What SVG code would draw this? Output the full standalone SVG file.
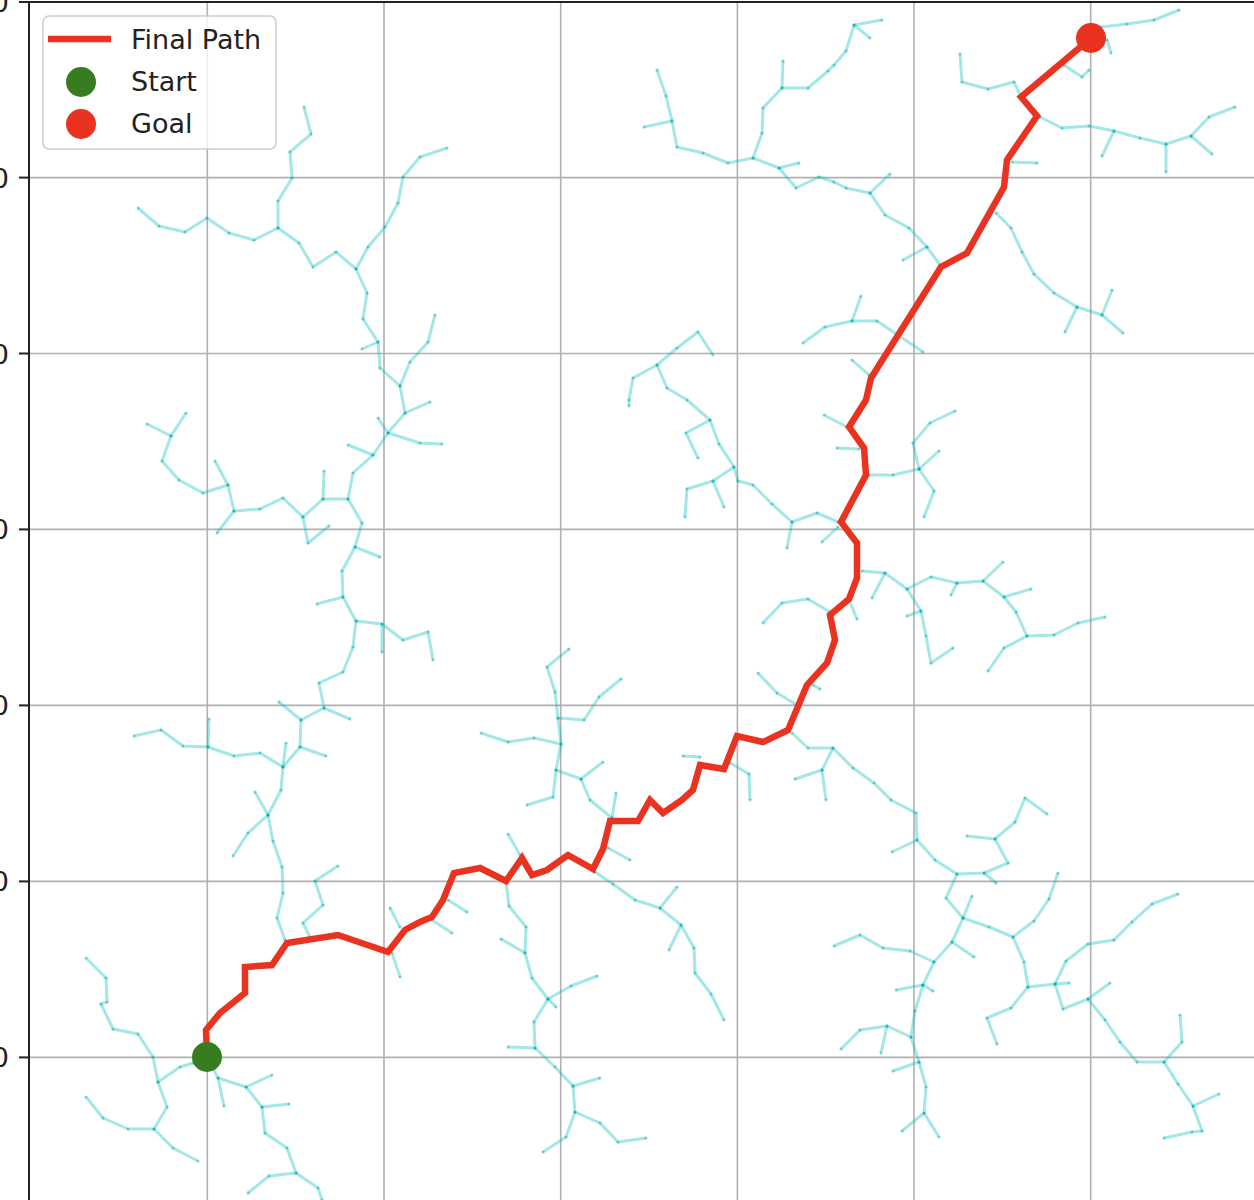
<svg xmlns="http://www.w3.org/2000/svg" width="1254" height="1200" viewBox="0 0 1254 1200">
<style>
.grid line{stroke:#b0b0b0;stroke-width:1.6}
.spine{stroke:#222;stroke-width:2;fill:none}
.tick{stroke:#222;stroke-width:2}
.lbl{font-family:"DejaVu Sans",sans-serif;font-size:27px;fill:#222}
.tree polyline{fill:none;stroke:#00bcbc;stroke-opacity:0.36;stroke-width:3;stroke-linejoin:round;stroke-linecap:butt;marker-start:url(#dot);marker-mid:url(#dot);marker-end:url(#dot)}
.path{fill:none;stroke:#e9321f;stroke-width:6.5;stroke-linejoin:miter;stroke-linecap:square}
</style>
<defs>
<marker id="dot" viewBox="0 0 4 4" refX="2" refY="2" markerWidth="4" markerHeight="4" markerUnits="userSpaceOnUse"><circle cx="2" cy="2" r="1.5" fill="#00a5a5" fill-opacity="0.45"/></marker>
</defs>
<rect width="1254" height="1200" fill="#fff"/>
<g id="grid" class="grid">
<line x1="207.3" y1="2" x2="207.3" y2="1200"/>
<line x1="384" y1="2" x2="384" y2="1200"/>
<line x1="560.7" y1="2" x2="560.7" y2="1200"/>
<line x1="737.4" y1="2" x2="737.4" y2="1200"/>
<line x1="914" y1="2" x2="914" y2="1200"/>
<line x1="1090.7" y1="2" x2="1090.7" y2="1200"/>
<line x1="29" y1="177.6" x2="1254" y2="177.6"/>
<line x1="29" y1="353.5" x2="1254" y2="353.5"/>
<line x1="29" y1="529.4" x2="1254" y2="529.4"/>
<line x1="29" y1="705.4" x2="1254" y2="705.4"/>
<line x1="29" y1="881.4" x2="1254" y2="881.4"/>
<line x1="29" y1="1057.4" x2="1254" y2="1057.4"/>
</g>
<g id="tree" class="tree">
<polyline points="304,107 311,134 290,152 292,178 278,201 278,228"/>
<polyline points="138,208 159,226 185,232 207,218 229,233 254,240 278,228 299,243 313,267 336,252 356,269 367,293 363,319 378,342 380,368 400,386 405,413 388,433 373,455 353,473 348,499 362,523 355,547 342,571 343,597 356,621 353,647 343,672 319,683 324,708 301,720 300,747 283,767 281,790 268,815 273,841 282,867 283,893 277,918 285,940"/>
<polyline points="356,269 368,247 385,227 398,203 403,177 420,157 447,148"/>
<polyline points="362,349 378,342"/>
<polyline points="400,386 410,362 428,342 435,315"/>
<polyline points="405,413 430,402"/>
<polyline points="378,418 388,433 420,443 442,444"/>
<polyline points="348,445 373,455"/>
<polyline points="348,499 323,499 324,471"/>
<polyline points="323,499 303,517 308,543 329,526"/>
<polyline points="303,517 283,498 260,509 234,511 228,485 203,493 179,480 162,461 171,436 147,424"/>
<polyline points="171,436 186,413"/>
<polyline points="228,485 215,461"/>
<polyline points="234,511 217,533"/>
<polyline points="355,547 380,557"/>
<polyline points="343,597 317,604"/>
<polyline points="356,621 382,624 382,652"/>
<polyline points="382,624 403,640 428,632 433,660"/>
<polyline points="324,708 350,719"/>
<polyline points="301,720 279,702"/>
<polyline points="300,747 326,756"/>
<polyline points="283,767 286,743"/>
<polyline points="283,767 260,753 234,756 208,747 183,746 161,730 134,736"/>
<polyline points="208,747 209,719"/>
<polyline points="255,792 268,815"/>
<polyline points="268,815 248,833 233,856"/>
<polyline points="338,866 315,881 323,905 303,923 310,937"/>
<polyline points="390,908 400,927"/>
<polyline points="392,953 400,977"/>
<polyline points="86,958 106,978 107,1002 101,1004 113,1029 138,1034 153,1057 158,1082 180,1067 193,1063 207,1057"/>
<polyline points="158,1082 167,1107 154,1129 128,1129 103,1118 86,1097"/>
<polyline points="154,1129 173,1148 198,1161"/>
<polyline points="207,1057 218,1078 224,1106"/>
<polyline points="218,1078 246,1087 272,1075"/>
<polyline points="246,1087 262,1107 289,1104"/>
<polyline points="262,1107 265,1133 287,1148 296,1173 269,1176 248,1193"/>
<polyline points="296,1173 318,1188 322,1200"/>
<polyline points="508,834 520,855"/>
<polyline points="608,848 630,860"/>
<polyline points="448,900 467,912"/>
<polyline points="432,920 452,933"/>
<polyline points="506,882 509,906 526,927 525,953 532,978 548,999 556,1007"/>
<polyline points="525,953 501,939"/>
<polyline points="548,999 571,986 597,976"/>
<polyline points="548,999 534,1022 535,1048 508,1047"/>
<polyline points="535,1048 555,1067 573,1086 600,1078"/>
<polyline points="573,1086 575,1112 600,1123 618,1142 646,1138"/>
<polyline points="575,1112 566,1137 543,1152"/>
<polyline points="595,872 613,884 635,900 660,908 677,887"/>
<polyline points="660,908 681,925 669,950"/>
<polyline points="681,925 694,948 695,973 711,994 724,1020"/>
<polyline points="713,355 698,332 677,348 657,365 633,378 629,400 629,406"/>
<polyline points="657,365 667,388 687,400 710,420 719,444 734,467 738,481 753,485 772,504 792,522 817,513 838,522"/>
<polyline points="710,420 686,433 698,458"/>
<polyline points="734,467 713,481 687,489 685,517"/>
<polyline points="713,481 724,507"/>
<polyline points="792,522 787,548"/>
<polyline points="838,527 822,542"/>
<polyline points="824,415 847,427"/>
<polyline points="837,448 859,449"/>
<polyline points="763,623 782,603 808,599 830,612"/>
<polyline points="758,673 777,693 797,705"/>
<polyline points="813,685 820,689"/>
<polyline points="792,733 808,748 833,748 853,768 874,783 891,800 916,813 917,840 935,860 957,874 984,873 1008,863 995,839 967,836"/>
<polyline points="833,748 822,770 795,779"/>
<polyline points="822,770 826,800"/>
<polyline points="683,756 700,757"/>
<polyline points="730,763 749,774 750,800"/>
<polyline points="569,649 547,667 555,692 558,718 584,720 599,697 621,679"/>
<polyline points="558,718 561,744 534,738 508,742 481,733"/>
<polyline points="561,744 556,770 553,797 527,805"/>
<polyline points="556,770 581,779 603,762"/>
<polyline points="581,779 590,800 612,818"/>
<polyline points="616,793 612,818"/>
<polyline points="869,475 893,475 919,469 913,443 930,423 955,411"/>
<polyline points="919,469 939,451"/>
<polyline points="919,469 934,491 924,517"/>
<polyline points="862,571 885,573 907,589 931,577 957,583 983,581 1003,562"/>
<polyline points="885,573 872,598"/>
<polyline points="907,589 921,611 926,636 931,663 953,648"/>
<polyline points="921,611 907,616"/>
<polyline points="957,583 951,595"/>
<polyline points="983,581 1004,597 1031,589"/>
<polyline points="1004,597 1016,612 1027,636 1054,635 1078,623 1105,617"/>
<polyline points="1027,636 1004,648 988,671"/>
<polyline points="849,600 857,619"/>
<polyline points="917,840 892,852"/>
<polyline points="995,839 1015,822 1025,798 1047,814"/>
<polyline points="984,873 996,883"/>
<polyline points="957,874 946,898 963,918 989,927 1013,937 1034,921 1049,899 1058,873"/>
<polyline points="963,918 972,896"/>
<polyline points="963,918 952,942 974,957"/>
<polyline points="952,942 934,962 923,985 933,991"/>
<polyline points="923,985 896,990"/>
<polyline points="923,985 915,1011 911,1037 887,1026 860,1030 841,1049"/>
<polyline points="887,1026 881,1053"/>
<polyline points="911,1037 919,1062 893,1071"/>
<polyline points="919,1062 926,1087 924,1113 902,1131"/>
<polyline points="924,1113 939,1137"/>
<polyline points="934,962 910,951 883,948 860,935 834,946"/>
<polyline points="1013,937 1024,962 1028,987 1055,984 1069,983"/>
<polyline points="1028,987 1011,1008 987,1018 997,1044"/>
<polyline points="1055,984 1066,961 1088,944 1114,940 1132,922 1152,904 1178,894"/>
<polyline points="1055,984 1063,1009 1088,999 1110,983"/>
<polyline points="1088,999 1105,1020 1120,1042 1137,1062 1164,1062 1182,1042 1180,1015"/>
<polyline points="1164,1062 1178,1084 1193,1106 1219,1094"/>
<polyline points="1193,1106 1202,1131 1192,1132 1164,1138"/>
<polyline points="882,20 854,25 846,51 834,65 828,71 808,88 782,88 763,108 762,133 753,158 728,163 703,153 677,147 672,121 666,96 657,70"/>
<polyline points="854,25 870,38"/>
<polyline points="672,121 644,127"/>
<polyline points="782,88 783,61"/>
<polyline points="753,158 779,168 799,163"/>
<polyline points="779,168 796,188 819,177 834,182 846,188 870,193 890,174"/>
<polyline points="870,193 885,215 909,228 927,247 940,265"/>
<polyline points="927,247 903,260"/>
<polyline points="803,343 825,327 852,321 877,321 923,352"/>
<polyline points="852,321 861,296"/>
<polyline points="852,360 869,375"/>
<polyline points="960,54 962,82 988,89 1014,82 1021,97"/>
<polyline points="1064,65 1082,77 1089,70"/>
<polyline points="1091,38 1101,27 1127,24 1154,20 1179,10"/>
<polyline points="1091,38 1107,40 1111,53"/>
<polyline points="1037,116 1040,117 1062,128 1089,126 1114,131 1140,138 1166,144 1191,136 1209,117 1235,107"/>
<polyline points="1114,131 1102,156"/>
<polyline points="1166,144 1166,172"/>
<polyline points="1191,136 1212,154"/>
<polyline points="1012,162 1037,163"/>
<polyline points="996,213 1011,228 1022,252 1034,274 1054,293 1077,307 1102,315 1123,333"/>
<polyline points="1077,307 1065,332"/>
<polyline points="1102,315 1112,290"/>
</g>
<g id="axes">
<polyline class="spine" points="29,1200 29,2 1254,2"/>
<line class="tick" x1="19" y1="2" x2="29" y2="2"/>
<line class="tick" x1="19" y1="177.6" x2="29" y2="177.6"/>
<line class="tick" x1="19" y1="353.5" x2="29" y2="353.5"/>
<line class="tick" x1="19" y1="529.4" x2="29" y2="529.4"/>
<line class="tick" x1="19" y1="705.4" x2="29" y2="705.4"/>
<line class="tick" x1="19" y1="881.4" x2="29" y2="881.4"/>
<line class="tick" x1="19" y1="1057.4" x2="29" y2="1057.4"/>
<text class="lbl" x="9" y="12" text-anchor="end">0</text>
<text class="lbl" x="9" y="187.6" text-anchor="end">0</text>
<text class="lbl" x="9" y="363.5" text-anchor="end">0</text>
<text class="lbl" x="9" y="539.4" text-anchor="end">0</text>
<text class="lbl" x="9" y="715.4" text-anchor="end">0</text>
<text class="lbl" x="9" y="891.4" text-anchor="end">0</text>
<text class="lbl" x="9" y="1067.4" text-anchor="end">0</text>
</g>
<g id="final-path">
<polyline class="path" points="207,1057 206,1030 220,1013 245,993 245,967 272,965 287,943 338,935 388,952 405,930 420,922 432,917 443,900 454,873 480,868 506,881 522,858 532,875 547,870 568,855 593,869 603,849 610,821 638,821 650,800 663,813 682,800 693,790 700,765 724,769 737,736 763,742 788,730 807,685 827,663 835,640 830,615 849,599 857,578 857,543 841,522 866,475 864,448 849,427 866,400 871,378 941,267 967,253 1004,187 1007,160 1037,116 1021,97 1091,38"/>
</g>
<g id="start"><circle cx="207" cy="1057" r="15" fill="#387c21"/></g>
<g id="goal"><circle cx="1091" cy="38" r="15" fill="#e9321f"/></g>
<g id="legend">
<rect x="43" y="16" width="233" height="133" rx="6" fill="#fff" fill-opacity="0.8" stroke="#cccccc" stroke-width="1.5"/>
<line x1="48" y1="39" x2="111" y2="39" stroke="#e9321f" stroke-width="6.5"/>
<circle cx="81" cy="82" r="15" fill="#387c21"/>
<circle cx="81" cy="124" r="15" fill="#e9321f"/>
<text class="lbl" x="131" y="49">Final Path</text>
<text class="lbl" x="131" y="91">Start</text>
<text class="lbl" x="131" y="133">Goal</text>
</g>
</svg>
